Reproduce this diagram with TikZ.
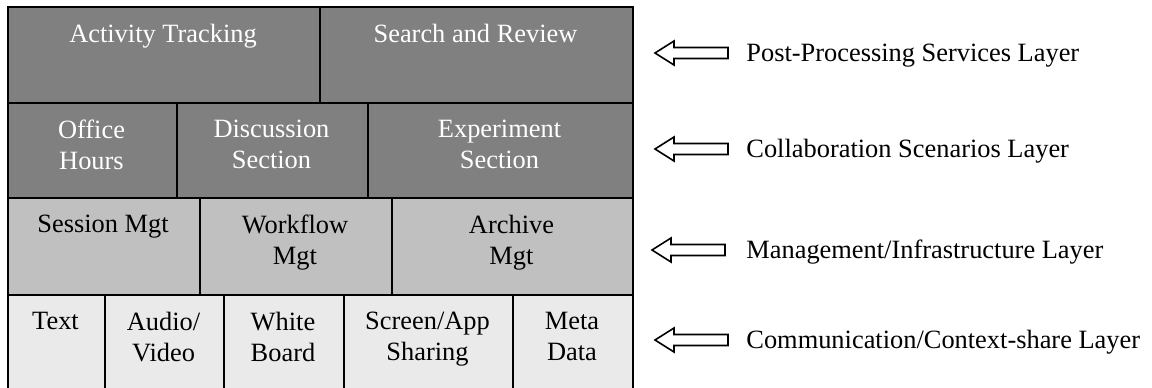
\documentclass[tikz,border=0pt]{standalone}
\usepackage{fontspec}
\setmainfont{Liberation Serif}
\usetikzlibrary{positioning}
\definecolor{topgray}{HTML}{808080}
\definecolor{midgray}{HTML}{C0C0C0}
\definecolor{lowgray}{HTML}{EAEAEA}
\begin{document}
\begin{tikzpicture}[x=0.5pt,y=-0.5pt,
  cell/.style={draw=black,line width=1pt,inner sep=0pt,anchor=north west},
  celltext/.style={anchor=north,align=center,inner sep=0pt,font=\fontsize{13.2}{15.5}\selectfont},
  layertext/.style={anchor=base west,inner sep=0pt,font=\fontsize{13.2}{15.5}\selectfont},
  hollowarrow/.style={draw=black,fill=white,line width=0.8pt,line join=miter}]
\useasboundingbox (0,0) rectangle (1152,387);
\clip (0,0) rectangle (1152,387);

% post-processing services
\foreach \xa/\xb/\nm/\txt in {7/319/track/{Activity Tracking},319/632/search/{Search and Review}}{
  \node[cell,fill=topgray,minimum width={(\xb-\xa)*0.5pt},minimum height=48pt] (\nm) at (\xa,6) {};
  \node[celltext,text=white] (\nm-t) at ({(\xa+\xb)/2},24) {\txt};
}
% collaboration scenarios
\foreach \xa/\xb/\nm/\txt in {7/176/office/{Office\\Hours},176/367/discuss/{Discussion\\Section},367/632/experiment/{Experiment\\Section}}{
  \node[cell,fill=topgray,minimum width={(\xb-\xa)*0.5pt},minimum height=47.5pt] (\nm) at (\xa,102) {};
  \node[celltext,text=white] (\nm-t) at ({(\xa+\xb)/2},120) {\txt};
}
% management
\foreach \xa/\xb/\nm/\txt in {7/199/session/{Session Mgt},199/391/workflow/{Workflow\\Mgt},391/632/archive/{Archive\\Mgt}}{
  \node[cell,fill=midgray,minimum width={(\xb-\xa)*0.5pt},minimum height=48.5pt] (\nm) at (\xa,197) {};
  \node[celltext] (\nm-t) at ({(\xa+\xb)/2},215) {\txt};
}
% communication / context share
\foreach \xa/\xb/\nm/\txt in {7/104/text/{Text},104/223/av/{Audio/\\Video},223/343/wb/{White\\Board},343/512/screen/{Screen/App\\Sharing},512/632/meta/{Meta\\Data}}{
  \node[cell,fill=lowgray,minimum width={(\xb-\xa)*0.5pt},minimum height=50pt] (\nm) at (\xa,294) {};
  \node[celltext] (\nm-t) at ({(\xa+\xb)/2},312) {\txt};
}

% layer names with hollow arrows
\foreach \yc/\xt/\nm/\txt in {53/655/post/{Post-Processing Services Layer},149/655/collab/{Collaboration Scenarios Layer},250/652/mgmt/{Management/Infrastructure Layer},340/655/comm/{Communication/Context-share Layer}}{
  \draw[hollowarrow,shift={(\xt,\yc)}] (0,0) -- (19,-12) -- (19,-5.5) -- (73,-5.5) -- (73,5.5) -- (19,5.5) -- (19,12) -- cycle;
  \node[layertext] (\nm) at (746,{\yc+8.5}) {\txt};
}
\end{tikzpicture}
\end{document}
